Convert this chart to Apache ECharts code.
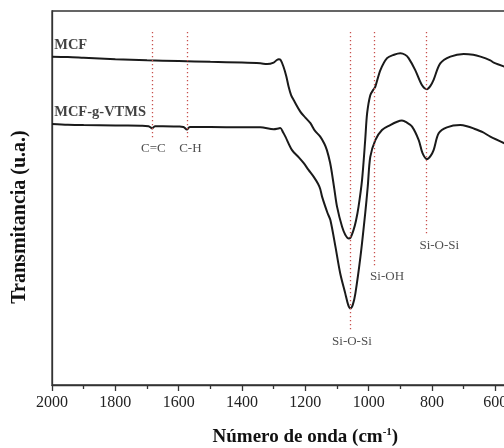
<!DOCTYPE html>
<html>
<head>
<meta charset="utf-8">
<script src="https://cdn.jsdelivr.net/npm/echarts@6/dist/echarts.min.js"></script>
<style>html,body{margin:0;padding:0;background:#fff}#c{width:504px;height:448px}</style>
</head>
<body>
<div id="c"></div>
<script>
// Tick values on the wavenumber axis
const xTicks = [2000, 1800, 1600, 1400, 1200, 1000, 800, 600];

// MCF spectrum: [wavenumber, transmittance (a.u.)]
const mcf = [
  [2000, 87.8], [1950, 87.7], [1900, 87.5], [1800, 87.1], [1700, 86.8], [1600, 86.6],
  [1500, 86.4], [1400, 86.2], [1342, 86.0], [1321, 85.8], [1300, 86.2], [1290, 86.9],
  [1284, 87.1], [1278, 86.9], [1269, 85.1], [1260, 82.5], [1253, 79.8], [1245, 77.5],
  [1237, 76.2], [1216, 73.1], [1200, 71.5], [1184, 70.0], [1170, 68.0], [1153, 66.4],
  [1140, 64.5], [1132, 62.8], [1122, 59.5], [1116, 56.6], [1108, 52.1], [1100, 47.7],
  [1084, 42.3], [1074, 40.2], [1063, 39.2], [1058, 39.3], [1048, 41.4], [1040, 44.0],
  [1032, 47.7], [1021, 54.8], [1011, 65.5], [1005, 72.6], [995, 77.5], [985, 79.0],
  [979, 79.8], [963, 84.2], [942, 87.4], [920, 88.3], [900, 88.7], [885, 88.3],
  [874, 87.4], [853, 84.2], [832, 80.2], [816, 79.1], [805, 80.0], [795, 81.6],
  [774, 86.0], [742, 87.8], [700, 88.5], [670, 88.3], [647, 87.8], [616, 86.8],
  [605, 86.2], [571, 85.1]
];

// MCF-g-VTMS spectrum
const mcfVtms = [
  [2000, 69.8], [1950, 69.6], [1900, 69.5], [1800, 69.4], [1720, 69.3], [1695, 69.2],
  [1684, 68.6], [1675, 69.2], [1650, 69.2], [1600, 69.1], [1585, 69.0], [1574, 68.3],
  [1565, 69.0], [1500, 69.0], [1400, 68.9], [1342, 68.9], [1300, 68.4], [1285, 68.6],
  [1279, 68.7], [1270, 67.5], [1263, 66.4], [1242, 62.8], [1220, 60.8], [1205, 59.3],
  [1190, 57.5], [1174, 55.7], [1160, 53.8], [1153, 52.4], [1147, 50.3], [1130, 46.0],
  [1121, 44.1], [1105, 37.0], [1090, 29.9], [1074, 24.5], [1065, 21.5], [1058, 20.5],
  [1050, 21.5], [1042, 24.5], [1026, 34.3], [1011, 45.9], [1003, 53.0], [995, 61.0],
  [979, 65.5], [958, 68.2], [932, 69.5], [910, 70.4], [895, 70.7], [880, 70.2],
  [863, 69.1], [842, 65.5], [830, 62.0], [816, 60.4], [805, 61.2], [795, 62.8],
  [779, 67.3], [753, 68.9], [711, 69.5], [690, 69.2], [669, 68.6], [640, 67.6],
  [616, 66.4], [571, 64.6]
];

// Band markers (dotted lines)
const bandX = [1684, 1574, 1058, 984, 818];
const bandTop = [94.4, 94.4, 94.4, 94.4, 94.4];
const bandBottom = [65.5, 65.5, 14.7, 31.6, 40.1];

// Band labels
const bandNames = ['C=C', 'C-H', 'Si-O-Si', 'Si-OH', 'Si-O-Si'];
const bandLabelX = [1680, 1563, 1053, 942, 777];
const bandLabelY = [63.1, 63.1, 11.6, 29.0, 37.2];

// Series names and their label anchor
const seriesNames = ['MCF', 'MCF-g-VTMS'];
const seriesLabelX = [1993, 1993];
const seriesLabelY = [90.9, 73.0];

const serif = 'Liberation Serif';
const chart = echarts.init(document.getElementById('c'));

chart.setOption({
  animation: false,
  backgroundColor: '#fff',
  grid: {
    left: 52, top: 11, width: 506.7, height: 374,
    show: true, borderColor: '#333', borderWidth: 1.3,
    outerBoundsMode: 'none'
  },
  xAxis: {
    type: 'value', inverse: true, min: 400, max: 2000, interval: 200,
    name: 'Número de onda (cm{sup|-1})',
    nameLocation: 'middle', nameGap: 42,
    nameTextStyle: {
      fontFamily: serif, fontSize: 19, fontWeight: 'bold', color: '#111',
      rich: { sup: { fontFamily: serif, fontSize: 11, fontWeight: 'bold', color: '#111', verticalAlign: 'top', padding: [0, 0, 10, 0] } }
    },
    axisLine: { show: true, lineStyle: { color: '#333', width: 1.3 } },
    axisTick: { show: true, inside: false, length: 6, lineStyle: { color: '#333', width: 1.3 } },
    minorTick: { show: true, splitNumber: 2, length: 4, lineStyle: { color: '#333', width: 1.3 } },
    splitLine: { show: false },
    axisLabel: {
      margin: 10, fontFamily: serif, fontSize: 16, color: '#222',
      formatter: v => xTicks.includes(v) ? String(v) : ''
    }
  },
  yAxis: {
    type: 'value', min: 0, max: 100,
    axisLine: { show: true, lineStyle: { color: '#333', width: 1.3 } },
    axisTick: { show: false }, axisLabel: { show: false }, splitLine: { show: false }
  },
  graphic: [{
    type: 'text', x: 20, y: 217, rotation: Math.PI / 2,
    style: {
      text: 'Transmitancia (u.a.)', fontFamily: serif, fontSize: 20, fontWeight: 'bold',
      fill: '#111', textAlign: 'center', textVerticalAlign: 'middle'
    }
  }],
  series: [
    {
      name: seriesNames[0], type: 'line', data: mcf, smooth: 0.3, symbol: 'none',
      lineStyle: { color: '#1a1a1a', width: 2 },
      markLine: {
        silent: true, symbol: 'none', label: { show: false },
        lineStyle: { color: '#c8504d', type: [1.3, 2.7], width: 1.3 },
        data: bandX.map((x, i) => [{ coord: [x, bandTop[i]] }, { coord: [x, bandBottom[i]] }])
      }
    },
    {
      name: seriesNames[1], type: 'line', data: mcfVtms, smooth: 0.3, symbol: 'none',
      lineStyle: { color: '#1a1a1a', width: 2 }
    },
    {
      type: 'scatter', symbolSize: 0, silent: true,
      data: bandNames.map((n, i) => ({ name: n, value: [bandLabelX[i], bandLabelY[i]] })),
      label: {
        show: true, position: 'inside', formatter: p => p.name,
        fontFamily: serif, fontSize: 13, color: '#222'
      }
    },
    {
      type: 'scatter', symbolSize: 0, silent: true,
      data: seriesNames.map((n, i) => ({ name: n, value: [seriesLabelX[i], seriesLabelY[i]] })),
      label: {
        show: true, position: 'right', distance: 0, formatter: p => p.name,
        fontFamily: serif, fontSize: 14.5, fontWeight: 'bold', color: '#111'
      }
    }
  ]
});
</script>
</body>
</html>
